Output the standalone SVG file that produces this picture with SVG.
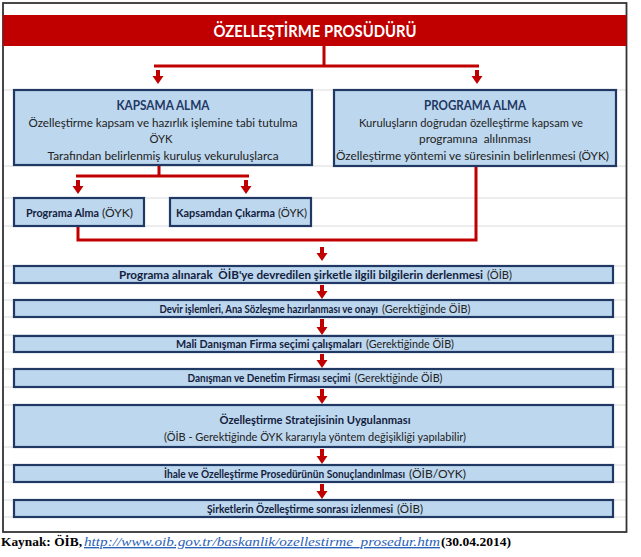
<svg xmlns="http://www.w3.org/2000/svg" width="641" height="557" viewBox="0 0 641 557">
<defs>
<style>
.grid{stroke:#dadada;stroke-width:1}
.box{fill:#bdd7ee;stroke:#1f3864;stroke-width:2.2}
.t{font-family:Lato,'Liberation Sans',sans-serif;font-size:12px;fill:#222;text-anchor:middle}
.st{font-size:11px}
.s{text-anchor:start}
.b{font-weight:bold;fill:#14213d}
.h{font-weight:bold;fill:#1f3864;font-size:13px}
.line{fill:none;stroke:#c00000;stroke-width:3}
.arr{fill:#c00000}
.src{font-family:'Liberation Serif',serif;font-size:13.5px;fill:#000}
</style>
</defs>
<rect x="0" y="0" width="641" height="557" fill="#fff"/>
<g id="grid">
<path class="grid" d="M3,90H626M3,166H626M3,198H626M3,226H626M3,266H626M3,283H626M3,300H626M3,317H626M3,335H626M3,352H626M3,369H626M3,387H626M3,405H626M3,447H626M3,465H626M3,482H626M3,500H626M3,517H626"/>
</g>
<rect x="3" y="3" width="623.5" height="529" fill="none" stroke="#333" stroke-width="1.8"/>
<g id="title">
<rect x="3" y="15" width="623.5" height="31" fill="#c00000"/>
<text x="315" y="37" font-family="Lato,'Liberation Sans',sans-serif" font-size="17" font-weight="bold" fill="#fff" text-anchor="middle" textLength="203" lengthAdjust="spacingAndGlyphs">ÖZELLEŞTİRME PROSÜDÜRÜ</text>
</g>
<g id="connectors">
<path class="line" stroke-width="2.6" d="M324,46V66M154,66H479"/>
<path class="line" d="M159,165V176M76,176H249"/>
<path class="line" d="M78,226V240H476V166"/>
<path class="arr" d="M156,70H160V76H163.5L158,84L152.5,76H156Z"/>
<path class="arr" d="M475,70H479V76H482.5L477,84L471.5,76H475Z"/>
<path class="arr" d="M76,180H80V186H83.5L78,194L72.5,186H76Z"/>
<path class="arr" d="M244,180H248V186H251.5L246,194L240.5,186H244Z"/>
<path class="arr" d="M320,247H324V253H327.5L322,261L316.5,253H320Z"/>
<path class="arr" d="M320,285H324V291H327.5L322,299L316.5,291H320Z"/>
<path class="arr" d="M320,319H324V327H327.5L322,335L316.5,327H320Z"/>
<path class="arr" d="M320,354H324V360H327.5L322,368L316.5,360H320Z"/>
<path class="arr" d="M320,389H324V396H327.5L322,404L316.5,396H320Z"/>
<path class="arr" d="M320,449H324V456H327.5L322,464L316.5,456H320Z"/>
<path class="arr" d="M320,484H324V491H327.5L322,499L316.5,491H320Z"/>
</g>
<g id="kapsama-alma">
<rect class="box" x="14" y="90" width="298" height="75"/>
<text class="t h" x="163" y="110" textLength="93" lengthAdjust="spacingAndGlyphs">KAPSAMA ALMA</text>
<text class="t" x="163" y="126.5" textLength="269" lengthAdjust="spacingAndGlyphs">Özelleştirme kapsam ve hazırlık işlemine tabi tutulma</text>
<text class="t" x="161" y="143" textLength="23" lengthAdjust="spacingAndGlyphs">ÖYK</text>
<text class="t" x="163" y="160" textLength="231" lengthAdjust="spacingAndGlyphs">Tarafından belirlenmiş kuruluş vekuruluşlarca</text>
</g>
<g id="programa-alma-top">
<rect class="box" x="334" y="90" width="282" height="76"/>
<text class="t h" x="475" y="110" textLength="102" lengthAdjust="spacingAndGlyphs">PROGRAMA ALMA</text>
<text class="t" x="471" y="126.5" textLength="224" lengthAdjust="spacingAndGlyphs">Kuruluşların doğrudan özelleştirme kapsam ve</text>
<text class="t" x="475" y="143" textLength="112" lengthAdjust="spacingAndGlyphs" xml:space="preserve">programına  alılınması</text>
<text class="t" x="472.5" y="160" textLength="273" lengthAdjust="spacingAndGlyphs">Özelleştirme yöntemi ve süresinin belirlenmesi (ÖYK)</text>
</g>
<g id="programa-alma-oyk">
<rect class="box" x="14" y="198" width="130" height="28"/>
<text class="t st s b" x="26" y="216.5" textLength="73" lengthAdjust="spacingAndGlyphs">Programa Alma</text>
<text class="t st s" x="102" y="216.5" textLength="31" lengthAdjust="spacingAndGlyphs">(ÖYK)</text>
</g>
<g id="kapsamdan-cikarma">
<rect class="box" x="170" y="198" width="141" height="28"/>
<text class="t st s b" x="176" y="216.5" textLength="99" lengthAdjust="spacingAndGlyphs">Kapsamdan Çıkarma</text>
<text class="t st s" x="278" y="216.5" textLength="29" lengthAdjust="spacingAndGlyphs">(ÖYK)</text>
</g>
<g id="step1">
<rect class="box" x="14" y="266" width="599" height="17"/>
<text class="t st s b" x="119" y="278.5" textLength="364" lengthAdjust="spacingAndGlyphs" xml:space="preserve">Programa alınarak  ÖİB'ye devredilen şirketle ilgili bilgilerin derlenmesi</text>
<text class="t st s" x="487" y="278.5" textLength="25" lengthAdjust="spacingAndGlyphs">(ÖİB)</text>
</g>
<g id="step2">
<rect class="box" x="14" y="300" width="599" height="17"/>
<text class="t st s b" x="159.5" y="312.5" textLength="218.5" lengthAdjust="spacingAndGlyphs">Devir işlemleri, Ana Sözleşme hazırlanması ve onayı</text>
<text class="t st s" x="382" y="312.5" textLength="88.5" lengthAdjust="spacingAndGlyphs">(Gerektiğinde ÖİB)</text>
</g>
<g id="step3">
<rect class="box" x="14" y="336" width="599" height="16"/>
<text class="t st s b" x="176" y="348" textLength="186" lengthAdjust="spacingAndGlyphs">Mali Danışman Firma seçimi çalışmaları</text>
<text class="t st s" x="366" y="348" textLength="88" lengthAdjust="spacingAndGlyphs">(Gerektiğinde ÖİB)</text>
</g>
<g id="step4">
<rect class="box" x="14" y="369" width="599" height="18"/>
<text class="t st s b" x="187.5" y="382" textLength="163" lengthAdjust="spacingAndGlyphs">Danışman ve Denetim Firması seçimi</text>
<text class="t st s" x="354.5" y="382" textLength="88" lengthAdjust="spacingAndGlyphs">(Gerektiğinde ÖİB)</text>
</g>
<g id="step5">
<rect class="box" x="14" y="405" width="599" height="42"/>
<text class="t st b" x="315" y="424" textLength="191" lengthAdjust="spacingAndGlyphs">Özelleştirme Stratejisinin Uygulanması</text>
<text class="t st" x="315" y="440.5" textLength="302" lengthAdjust="spacingAndGlyphs">(ÖİB - Gerektiğinde ÖYK kararıyla yöntem değişikliği yapılabilir)</text>
</g>
<g id="step6">
<rect class="box" x="14" y="465" width="599" height="17"/>
<text class="t st s b" x="164" y="477.5" textLength="241" lengthAdjust="spacingAndGlyphs">İhale ve Özelleştirme Prosedürünün Sonuçlandınlması</text>
<text class="t st s" x="409" y="477.5" textLength="57" lengthAdjust="spacingAndGlyphs">(ÖİB/OYK)</text>
</g>
<g id="step7">
<rect class="box" x="14" y="500" width="599" height="17"/>
<text class="t st s b" x="207" y="512.5" textLength="186" lengthAdjust="spacingAndGlyphs">Şirketlerin Özelleştirme sonrası izlenmesi</text>
<text class="t st s" x="397" y="512.5" textLength="26" lengthAdjust="spacingAndGlyphs">(ÖİB)</text>
</g>
<g id="source">
<text class="src" x="1" y="546" font-weight="bold" textLength="81" lengthAdjust="spacingAndGlyphs">Kaynak: ÖİB,</text>
<text class="src" x="84" y="546" font-style="italic" text-decoration="underline" textLength="356" lengthAdjust="spacingAndGlyphs" style="fill:#2a62b8"> http://www.oib.gov.tr/baskanlik/ozellestirme_prosedur.htm</text>
<text class="src" x="441" y="546" font-weight="bold" textLength="70" lengthAdjust="spacingAndGlyphs">(30.04.2014)</text>
</g>
</svg>
